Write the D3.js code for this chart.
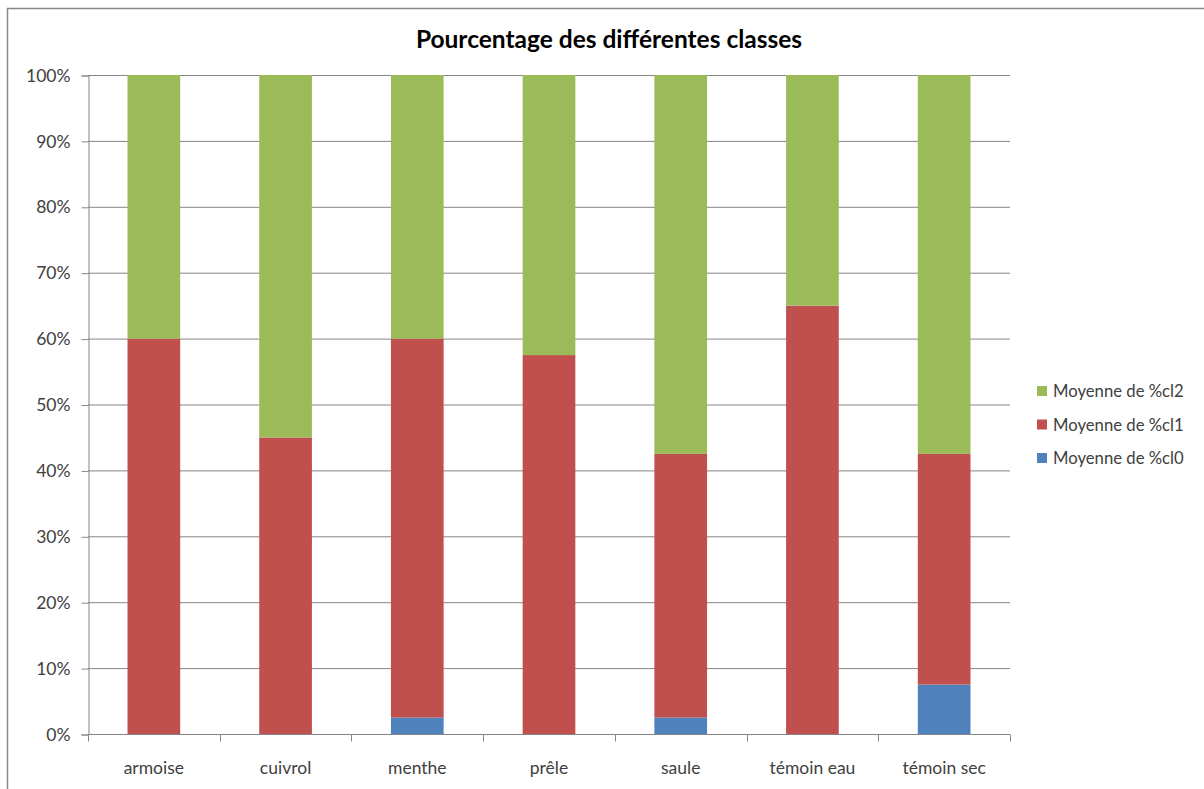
<!DOCTYPE html>
<html><head><meta charset="utf-8">
<script src="https://cdn.jsdelivr.net/npm/d3@7"></script>
<style>body{margin:0;background:#fff}svg{display:block}</style>
</head><body>
<svg id="c" width="1204" height="789"></svg>
<script>
const categories = ["armoise","cuivrol","menthe","prêle","saule","témoin eau","témoin sec"];
const cl0 = [0, 0, 2.5, 0, 2.5, 0, 7.5];
const cl1 = [60, 45, 57.5, 57.5, 40, 65, 35];
const cl2 = [40, 55, 40, 42.5, 57.5, 35, 57.5];
const seriesNames = ["Moyenne de %cl0","Moyenne de %cl1","Moyenne de %cl2"];
const colors = ["#4F81BD","#C0504D","#9BBB59"];
const yTicks = [0,10,20,30,40,50,60,70,80,90,100];

const svg = d3.select("#c");
const font = "Lato, 'Open Sans', sans-serif";
// frame
svg.append("path").attr("d","M7.5,789 L7.5,8.5 L1204,8.5").attr("fill","none").attr("stroke","#888").attr("stroke-width",1.5);

const m = {l:88, r:1010, t:75, b:734};
const x = d3.scaleBand().domain(categories).range([m.l, m.r]).paddingInner(0.6).paddingOuter(0.3);
const xb = d3.scaleBand().domain(categories).range([m.l, m.r]);
const y = d3.scaleLinear().domain([0,100]).range([m.b, m.t]);

// gridlines
svg.append("g").selectAll("line").data(yTicks.filter(d=>d>0)).join("line")
  .attr("x1",m.l).attr("x2",m.r).attr("y1",d=>y(d)+0.5).attr("y2",d=>y(d)+0.5)
  .attr("stroke","#868686").attr("stroke-width",1);

// stacked data
const rows = categories.map((c,i)=>({cat:c, s0:cl0[i], s1:cl1[i], s2:cl2[i]}));
const stack = d3.stack().keys(["s0","s1","s2"])(rows);
svg.append("g").selectAll("g").data(stack).join("g").attr("fill",(d,i)=>colors[i])
  .selectAll("rect").data(d=>d).join("rect")
  .attr("x",d=>x(d.data.cat)).attr("width",x.bandwidth())
  .attr("y",d=>y(d[1])).attr("height",d=>y(d[0])-y(d[1]));

// y axis
const ya = d3.axisLeft(y).tickValues(yTicks).tickFormat(d=>d+"%").tickSize(7).tickPadding(11);
const gy = svg.append("g").attr("transform",`translate(${m.l+0.5},0.5)`).call(ya);
gy.selectAll("path,line").attr("stroke","#868686");
gy.selectAll("text").attr("font-family",font).attr("font-size",17.5).attr("fill","#404040");

// x axis
const gx = svg.append("g").attr("transform",`translate(0,${m.b+0.5})`);
gx.append("line").attr("x1",m.l).attr("x2",m.r).attr("stroke","#868686");
gx.selectAll("line.t").data(categories.concat(["end"])).join("line").attr("class","t")
  .attr("x1",(d,i)=>Math.round(m.l + i*xb.bandwidth())+0.5).attr("x2",(d,i)=>Math.round(m.l + i*xb.bandwidth())+0.5)
  .attr("y1",0).attr("y2",7).attr("stroke","#868686");
gx.selectAll("text").data(categories).join("text")
  .attr("x",d=>xb(d)+xb.bandwidth()/2).attr("y",39).attr("text-anchor","middle")
  .attr("font-family",font).attr("font-size",17.5).attr("fill","#404040").text(d=>d);

// title
svg.append("text").attr("x",609).attr("y",48).attr("text-anchor","middle")
  .attr("font-family",font).attr("font-weight","bold").attr("font-size",24.5).attr("fill","#000")
  .text("Pourcentage des différentes classes");

// legend
const leg = svg.append("g");
const order = [2,1,0];
order.forEach((si,k)=>{
  const yy = 391 + k*33.5;
  leg.append("rect").attr("x",1037).attr("y",yy-5).attr("width",10).attr("height",10).attr("fill",colors[si]);
  leg.append("text").attr("x",1053).attr("y",yy+6).attr("font-family",font).attr("font-size",16.7)
    .attr("fill","#404040").text(seriesNames[si]);
});
</script>
</body></html>
